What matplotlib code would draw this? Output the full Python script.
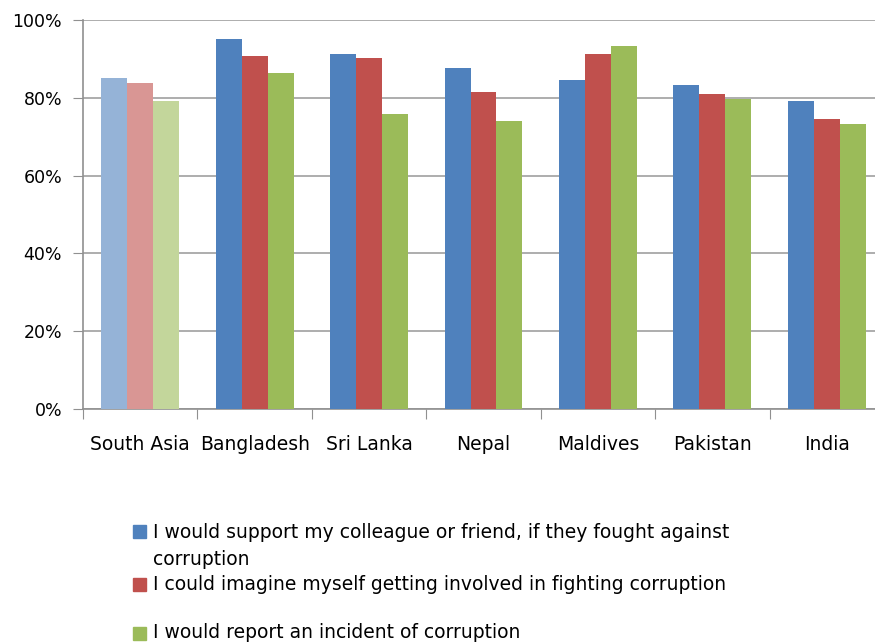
import numpy as np
import matplotlib.pyplot as plt
from matplotlib.patches import Rectangle

plt.rcParams['font.family'] = ['DejaVu Sans']

countries = ['South Asia', 'Bangladesh', 'Sri Lanka', 'Nepal', 'Maldives', 'Pakistan', 'India']
support = [0.851, 0.951, 0.913, 0.877, 0.846, 0.833, 0.792]
imagine = [0.838, 0.907, 0.902, 0.815, 0.913, 0.810, 0.746]
report = [0.792, 0.864, 0.758, 0.740, 0.933, 0.797, 0.733]

labels = ['I would support my colleague or friend, if they fought against\ncorruption',
          'I could imagine myself getting involved in fighting corruption',
          'I would report an incident of corruption']

colors = ['#4F81BD', '#C0504D', '#9BBB59']
light = ['#95B3D7', '#D99694', '#C3D69B']

W, H = 875, 644
fig = plt.figure(figsize=(W / 100, H / 100), dpi=100)
# plot area runs off the right edge, as in the original
ax = fig.add_axes([83 / W, 1 - 409 / H, 801 / W, 389 / H])

x = np.arange(len(countries))
bw = 0.227
for k, vals in enumerate([support, imagine, report]):
    cols = [light[k]] + [colors[k]] * (len(countries) - 1)
    ax.bar(x + (k - 1) * bw, vals, bw, color=cols, zorder=3)

ax.set_xlim(-0.5, len(countries) - 0.5)
ax.set_ylim(0, 1)
ax.set_yticks(np.arange(0, 1.01, 0.2))
ax.set_yticklabels(['%d%%' % v for v in range(0, 101, 20)])
ax.yaxis.grid(True, color='#a0a0a0', linewidth=1.2, zorder=0)

ax.set_xticks(np.arange(-0.5, len(countries)))
ax.set_xticklabels([])
ax.set_xticks(x, minor=True)
ax.set_xticklabels(countries, minor=True)
ax.tick_params(axis='x', which='minor', length=0, pad=19, labelsize=13.5)
ax.tick_params(axis='x', which='major', length=7, color='#909090', direction='out')
ax.tick_params(axis='y', length=7, color='#909090', labelsize=12.5, pad=8)

for s in ['top', 'right']:
    ax.spines[s].set_visible(False)
for s in ['left', 'bottom']:
    ax.spines[s].set_color('#909090')
    ax.spines[s].set_linewidth(1.2)

# legend drawn by hand to keep the odd Excel spacing
ys = [531.5, 584.5, 633]
text_ys = [546, 584.5, 633]
for c, lab, yc, ty in zip(colors, labels, ys, text_ys):
    fig.patches.append(Rectangle((133 / W, 1 - (yc + 6.5) / H), 13 / W, 13 / H,
                                 transform=fig.transFigure, color=c))
    fig.text(153 / W, 1 - ty / H, lab, fontsize=13.5, va='center', ha='left',
             linespacing=1.5)

fig.savefig('out.png', dpi=100)
